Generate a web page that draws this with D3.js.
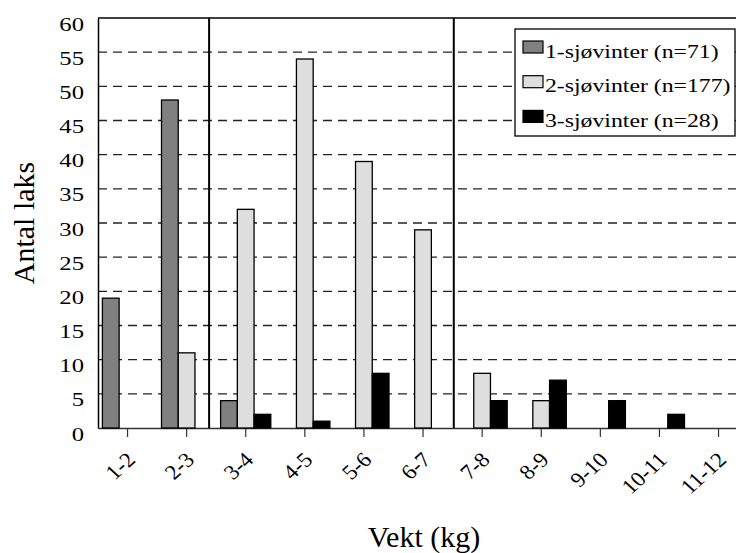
<!DOCTYPE html>
<html>
<head>
<meta charset="utf-8">
<script src="https://cdn.jsdelivr.net/npm/d3@7"></script>
<style>
  html, body { margin: 0; padding: 0; background: #fff; }
  svg { display: block; }
</style>
</head>
<body>
<svg id="chart" width="736" height="553" font-family="'Liberation Serif', 'DejaVu Serif', serif"></svg>
<script>
const categories = ["1-2", "2-3", "3-4", "4-5", "5-6", "6-7", "7-8", "8-9", "9-10", "10-11", "11-12"];
const seriesNames = ["1-sjøvinter (n=71)", "2-sjøvinter (n=177)", "3-sjøvinter (n=28)"];
const series1 = [19, 48, 4, 0, 0, 0, 0, 0, 0, 0, 0];
const series2 = [0, 11, 32, 54, 39, 29, 8, 4, 0, 0, 0];
const series3 = [0, 0, 2, 1, 8, 0, 4, 7, 4, 2, 0];
const seriesColors = ["#808080", "#dedede", "#000000"];
const yTicks = [0, 5, 10, 15, 20, 25, 30, 35, 40, 45, 50, 55, 60];
const dividers = [1.88, 6.02]; // category-index positions of the separator lines
const yTitle = "Antal laks";
const xTitle = "Vekt (kg)";

(function () {
const FONT = "Liberation Serif";
const allSeries = [series1, series2, series3];
const svg = d3.select("#chart");

const pLeft = 98, pTop = 18, pBottom = 428, step = 59.1;
const x = d3.scaleBand().domain(categories).range([pLeft, pLeft + step * categories.length]).padding(0);
const xIdx = d3.scaleLinear().domain([0, categories.length]).range(x.range());
const xSub = d3.scaleBand().domain([0, 1, 2]).range([4.4, 54.6]).padding(0);
const y = d3.scaleLinear().domain([0, 60]).range([pBottom, pTop]);

// grid lines
svg.append("g").selectAll("line")
  .data(yTicks.filter(v => v > 0 && v < 60))
  .join("line")
  .attr("x1", pLeft).attr("x2", 760)
  .attr("y1", d => y(d)).attr("y2", d => y(d))
  .attr("stroke", "#222").attr("stroke-width", 1.3)
  .attr("stroke-dasharray", "9,6");

// bottom axis
const xAxis = d3.axisBottom(x).tickSize(9).tickSizeOuter(0).tickFormat("");
const gx = svg.append("g").attr("transform", `translate(0,${pBottom})`).call(xAxis);
gx.attr("font-family", FONT);
gx.select(".domain").attr("stroke", "#333").attr("stroke-width", 1.5);
gx.selectAll(".tick line").attr("stroke", "#333").attr("stroke-width", 1.2);

// x tick labels (rotated)
svg.append("g").selectAll("text")
  .data(categories)
  .join("text")
  .attr("font-family", FONT)
  .attr("transform", d => `translate(${x(d) + x.bandwidth() / 2 + 9},${pBottom + 33}) scale(1.1,1) rotate(-45)`)
  .attr("text-anchor", "end")
  .attr("font-size", 21)
  .text(d => d);

// bars
const gBars = svg.append("g");
allSeries.forEach((vals, si) => {
  gBars.append("g").selectAll("rect")
    .data(vals.map((v, i) => ({ cat: categories[i], v })))
    .join("rect")
    .attr("x", d => x(d.cat) + xSub(si))
    .attr("width", xSub.bandwidth())
    .attr("y", d => y(d.v))
    .attr("height", d => y(0) - y(d.v))
    .attr("fill", seriesColors[si])
    .attr("stroke", "#000").attr("stroke-width", 1.3);
});

// separators
svg.append("g").selectAll("line")
  .data(dividers)
  .join("line")
  .attr("x1", d => xIdx(d)).attr("x2", d => xIdx(d))
  .attr("y1", pTop).attr("y2", pBottom)
  .attr("stroke", "#000").attr("stroke-width", 2);

// frame: top and left
svg.append("line").attr("x1", pLeft).attr("x2", 760).attr("y1", pTop).attr("y2", pTop)
  .attr("stroke", "#000").attr("stroke-width", 1.5);
const yAxis = d3.axisLeft(y).tickValues(yTicks).tickSize(0).tickFormat("");
const gy = svg.append("g").attr("transform", `translate(${pLeft},0)`).call(yAxis);
gy.select(".domain").attr("stroke", "#000").attr("stroke-width", 1.5);

// y tick labels
svg.append("g").selectAll("text")
  .data(yTicks)
  .join("text")
  .attr("font-family", FONT)
  .attr("transform", d => `translate(84,${y(d) + 12.5}) scale(1.3,1)`)
  .attr("text-anchor", "end")
  .attr("font-size", 19)
  .text(d => d);

// titles
svg.append("text")
  .attr("font-family", FONT)
  .attr("transform", "translate(33.5,223) rotate(-90)")
  .attr("text-anchor", "middle")
  .attr("font-size", 30)
  .text(yTitle);
svg.append("text")
  .attr("font-family", FONT)
  .attr("x", 424).attr("y", 547)
  .attr("text-anchor", "middle")
  .attr("font-size", 30)
  .text(xTitle);

// legend
const lg = svg.append("g");
lg.append("rect").attr("x", 515).attr("y", 29).attr("width", 220).attr("height", 107)
  .attr("fill", "#fff").attr("stroke", "#000").attr("stroke-width", 1.3);
const rows = lg.selectAll("g.row").data(seriesNames).join("g").attr("class", "row")
  .attr("transform", (d, i) => `translate(0,${i * 34.7})`);
rows.append("rect").attr("x", 523).attr("y", 41).attr("width", 20).attr("height", 12)
  .attr("fill", (d, i) => seriesColors[i]).attr("stroke", "#000").attr("stroke-width", 1.2);
rows.append("text")
  .attr("font-family", FONT)
  .attr("transform", "translate(545,57.5) scale(1.25,1)")
  .attr("font-size", 19)
  .text(d => d);
})();
</script>
</body>
</html>
